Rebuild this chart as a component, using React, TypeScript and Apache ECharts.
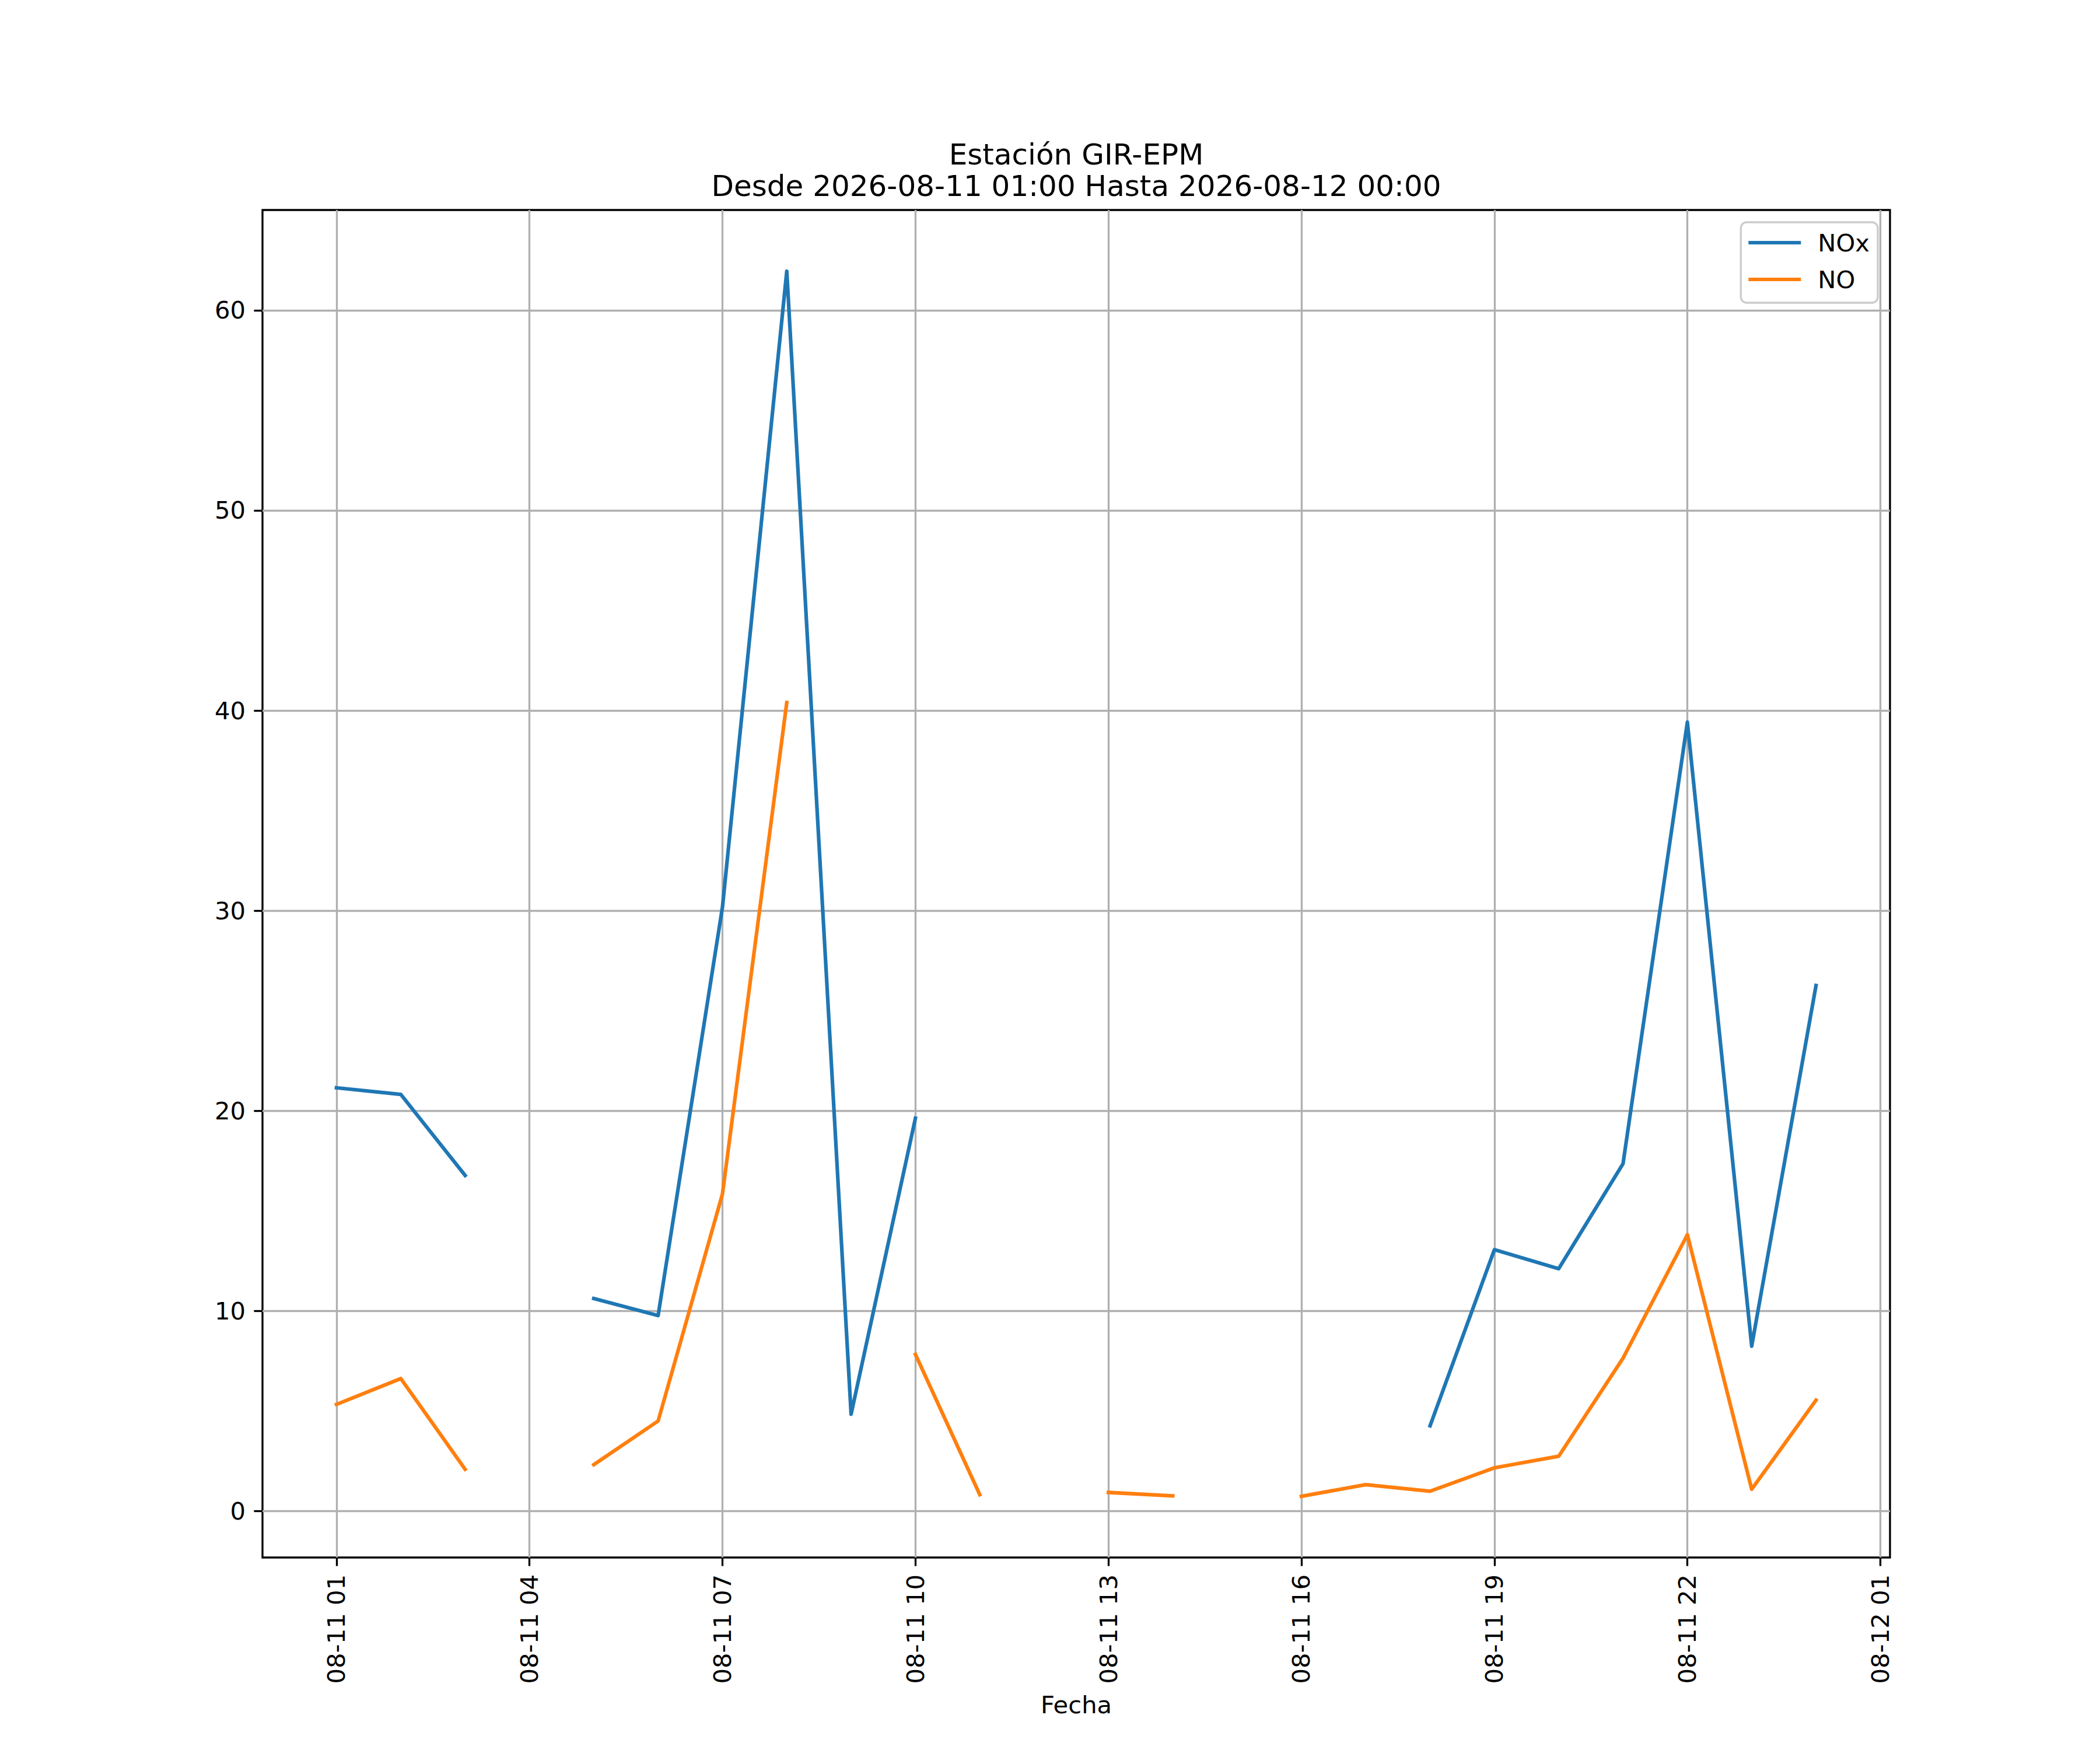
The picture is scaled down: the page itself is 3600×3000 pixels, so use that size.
import React, { useEffect, useRef } from "react";
import * as echarts from "echarts";

// Hours since 2026-08-11 00:00 (01:00 ... 24:00 = 2026-08-12 00:00)
const hours = [1, 2, 3, 4, 5, 6, 7, 8, 9, 10, 11, 12, 13, 14, 15, 16, 17, 18, 19, 20, 21, 22, 23, 24];

const noxValues = [
  21.15, 20.82, 16.77, null, 10.62, 9.77, 30.17, 61.95, 4.84, 19.63,
  null, null, null, null, null, null, null,
  4.26, 13.06, 12.11, 17.36, 39.42, 8.24, 26.26,
];

const noValues = [
  5.33, 6.62, 2.09, null, 2.32, 4.5, 15.84, 40.4, null, 7.83,
  0.82, null, 0.93, 0.76, null, 0.74, 1.32,
  0.99, 2.16, 2.74, 7.64, 13.81, 1.09, 5.54,
];

const xTickValues = [1, 4, 7, 10, 13, 16, 19, 22, 25];
const xTickLabels = [
  "08-11 01", "08-11 04", "08-11 07", "08-11 10", "08-11 13",
  "08-11 16", "08-11 19", "08-11 22", "08-12 01",
];
const yTickValues = [0, 10, 20, 30, 40, 50, 60];

const titleLines = ["Estación GIR-EPM", "Desde 2026-08-11 01:00 Hasta 2026-08-12 00:00"];
const seriesNames = ["NOx", "NO"];
const xAxisTitle = "Fecha";

const FONT = "DejaVu Sans";

export default function App() {
  const ref = useRef<HTMLDivElement>(null);

  useEffect(() => {
    document.body.style.margin = "0";
    if (!ref.current) return;
    const chart = echarts.init(ref.current, undefined, { renderer: "svg" });

    const allY = [...noxValues, ...noValues].filter((v) => v !== null) as number[];
    const yMinD = Math.min(...allY);
    const yMaxD = Math.max(...allY);
    const yr = yMaxD - yMinD;
    const xr = hours[hours.length - 1] - hours[0];

    const toPairs = (vals: (number | null)[]) => hours.map((h, i) => [h, vals[i] === null ? "-" : vals[i]]);

    const lw = 3.33;
    const option: any = {
      animation: false,
      backgroundColor: "#ffffff",
      textStyle: { fontFamily: FONT },
      grid: {
        left: 450,
        right: 360,
        top: 360,
        bottom: 330,
        show: true,
        borderColor: "#000000",
        borderWidth: lw,
        backgroundColor: "transparent",
        containLabel: false,
        outerBoundsMode: "none",
      },
      graphic: [
        {
          type: "text",
          x: 1845,
          y: 265,
          z: 10,
          style: {
            text: titleLines[0],
            font: `50px '${FONT}'`,
            fill: "#000000",
            align: "center",
            verticalAlign: "middle",
          },
        },
        {
          type: "text",
          x: 1845,
          y: 319,
          z: 10,
          style: {
            text: titleLines[1],
            font: `50px '${FONT}'`,
            fill: "#000000",
            align: "center",
            verticalAlign: "middle",
          },
        },
      ],
      legend: {
        show: true,
        orient: "vertical",
        right: 381,
        top: 381,
        icon: "rect",
        itemWidth: 90,
        itemHeight: 6,
        itemGap: 21,
        padding: [14, 14, 19, 13],
        borderColor: "#cccccc",
        borderWidth: lw,
        borderRadius: 10,
        backgroundColor: "rgba(255,255,255,0.8)",
        data: seriesNames,
        textStyle: {
          fontFamily: FONT,
          fontSize: 41.7,
          color: "#000000",
          padding: [0, 0, 0, 24],
          lineHeight: 42,
        },
      },
      xAxis: {
        type: "value",
        min: hours[0] - 0.05 * xr,
        max: hours[hours.length - 1] + 0.05 * xr,
        name: xAxisTitle,
        nameLocation: "middle",
        nameGap: 231,
        nameMoveOverlap: false,
        nameTextStyle: { fontFamily: FONT, fontSize: 41.7, color: "#000000" },
        axisLine: { show: false, onZero: false },
        axisTick: {
          show: true,
          customValues: xTickValues,
          length: 14.6,
          inside: false,
          lineStyle: { color: "#000000", width: lw },
        },
        axisLabel: {
          show: true,
          customValues: xTickValues,
          rotate: 90,
          margin: 29,
          fontFamily: FONT,
          fontSize: 41.7,
          color: "#000000",
          formatter: (v: number) => {
            const i = xTickValues.indexOf(Math.round(v));
            return i >= 0 ? xTickLabels[i] : "";
          },
        },
        splitLine: { show: true, lineStyle: { color: "#b0b0b0", width: lw } },
      },
      yAxis: {
        type: "value",
        min: yMinD - 0.05 * yr,
        max: yMaxD + 0.05 * yr,
        axisLine: { show: false, onZero: false },
        axisTick: {
          show: true,
          customValues: yTickValues,
          length: 14.6,
          inside: false,
          lineStyle: { color: "#000000", width: lw },
        },
        axisLabel: {
          show: true,
          customValues: yTickValues,
          margin: 29,
          fontFamily: FONT,
          fontSize: 41.7,
          color: "#000000",
          formatter: (v: number) => String(Math.round(v)),
        },
        splitLine: { show: true, lineStyle: { color: "#b0b0b0", width: lw } },
      },
      series: [
        {
          name: seriesNames[0],
          type: "line",
          data: toPairs(noxValues),
          symbol: "none",
          connectNulls: false,
          color: "#1f77b4",
          lineStyle: { color: "#1f77b4", width: 6.25, join: "round", cap: "square" },
          z: 3,
        },
        {
          name: seriesNames[1],
          type: "line",
          data: toPairs(noValues),
          symbol: "none",
          connectNulls: false,
          color: "#ff7f0e",
          lineStyle: { color: "#ff7f0e", width: 6.25, join: "round", cap: "square" },
          z: 3,
        },
      ],
    };

    chart.setOption(option);
    return () => {
      chart.dispose();
    };
  }, []);

  return <div ref={ref} style={{ width: 3600, height: 3000 }} />;
}
